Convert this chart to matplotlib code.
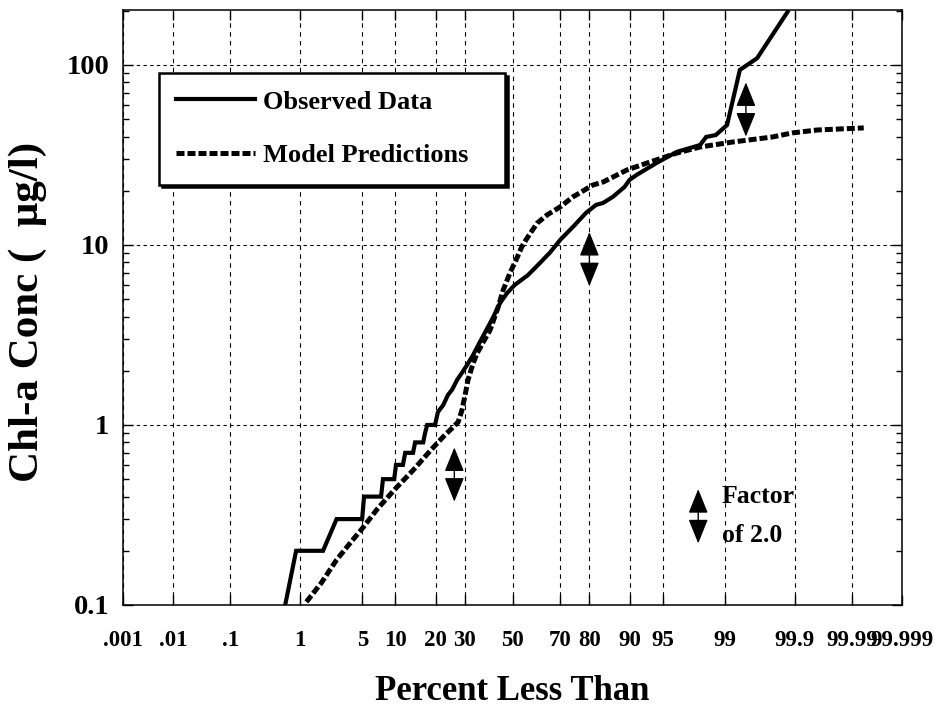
import matplotlib
matplotlib.use("Agg")
import matplotlib.pyplot as plt
import numpy as np
from matplotlib.lines import Line2D
from matplotlib.ticker import FixedLocator, FixedFormatter, NullLocator, NullFormatter, LogLocator
from statistics import NormalDist

plt.rcParams['font.family'] = ['Liberation Serif', 'DejaVu Serif']
plt.rcParams['font.weight'] = 'bold'

# observed chl-a, percent less than vs conc (ug/l)
obs_pct = [0.64, 0.89, 1.9, 2.7, 4.98, 5.2, 7.5, 7.8, 9.75, 10.1, 11.5, 12.0,
           13.8, 14.3, 16.4, 16.9, 17.5, 19.8, 20.7, 22.4, 24.0, 25.4, 27.2,
           29.0, 30.9, 33.3, 36.1, 41.0, 44.6, 47.6, 51.0, 56.7, 61.8, 66.0,
           70.0, 74.6, 79.0, 82.0, 83.9, 86.4, 89.0, 90.0, 91.3, 94.3, 96.4,
           98.0, 98.3, 98.7, 99.06, 99.36, 99.63, 99.87]
obs_val = [0.1, 0.2, 0.2, 0.3, 0.3, 0.4, 0.4, 0.5, 0.5, 0.6, 0.6, 0.7,
           0.7, 0.8, 0.8, 0.9, 1.0, 1.0, 1.18, 1.29, 1.47, 1.57, 1.78,
           1.95, 2.15, 2.45, 2.9, 3.83, 4.76, 5.4, 6.0, 6.8, 7.94, 9.1,
           10.7, 12.6, 15.1, 16.7, 17.1, 18.5, 21.0, 23.0, 24.5, 28.6, 32.9,
           35.9, 39.8, 40.8, 46.4, 93.8, 109.0, 197.0]

# model predictions
mod_pct = [1.2, 1.8, 2.7, 3.75, 5.1, 6.9, 9.9, 13.8, 18.4, 22.4, 25.4, 27.6,
           29.0, 30.2, 31.3, 33.3, 34.9, 37.5, 40.3, 43.7, 45.9, 48.9, 52.0,
           54.1, 56.3, 60.6, 64.8, 70.0, 74.6, 77.0, 81.0, 84.0, 89.5, 93.4,
           96.4, 98.0, 99.2, 99.78, 99.89, 99.957, 99.994]
mod_val = [0.104, 0.132, 0.178, 0.22, 0.27, 0.34, 0.44, 0.56, 0.72, 0.86, 0.96, 1.04,
           1.21, 1.47, 1.78, 2.2, 2.5, 2.9, 3.37, 4.5, 5.6, 7.0, 8.5,
           9.8, 10.9, 13.2, 14.7, 16.3, 18.5, 19.5, 21.5, 22.4, 26.1, 28.9,
           32.4, 35.0, 37.3, 39.8, 41.9, 43.5, 44.7]

# factor-of-2 arrows
arrow_pct = [26.2, 80.0, 99.47, 97.9]
arrow_lo = [0.375, 5.9, 40.0, 0.22]
arrow_hi = [0.75, 11.8, 80.0, 0.44]

xticks = [0.001, 0.01, 0.1, 1, 5, 10, 20, 30, 50, 70, 80, 90, 95, 99, 99.9, 99.99, 99.999]
xlabels = ['.001', '.01', '.1', '1', '5', '10', '20', '30', '50', '70', '80', '90', '95',
           '99', '99.9', '99.99', '99.999']
yticks = [0.1, 1, 10, 100]
ylabels = ['0.1', '1', '10', '100']

nd = NormalDist()
_ppf = np.vectorize(lambda p: nd.inv_cdf(p), otypes=[float])
_cdf = np.vectorize(lambda z: nd.cdf(z), otypes=[float])


def fwd(p):
    p = np.clip(np.asarray(p, dtype=float), 1e-7, 100 - 1e-7)
    return _ppf(p / 100.0)


def inv(z):
    return _cdf(np.asarray(z, dtype=float)) * 100.0


fig = plt.figure(figsize=(9.35, 7.07), dpi=100)
ax = fig.add_axes([0.1316, 0.1443, 0.8331, 0.8416])

ax.set_xscale('function', functions=(fwd, inv))
ax.set_yscale('log')
ax.set_xlim(0.001, 99.999)
ax.set_ylim(0.1, 202)

ax.plot(obs_pct, obs_val, color='black', lw=3.0, solid_joinstyle='miter')
ax.plot(mod_pct, mod_val, color='black', lw=3.6, linestyle=(0, (1.6, 0.6)),
        dash_capstyle='butt')

for p, lo, hi in zip(arrow_pct, arrow_lo, arrow_hi):
    ax.annotate('', xy=(p, hi), xytext=(p, lo),
                arrowprops=dict(arrowstyle='<|-|>,head_length=0.42,head_width=0.17',
                                mutation_scale=36, lw=1, color='black',
                                shrinkA=0, shrinkB=0))

ax.text(98.9, 0.369, 'Factor', fontsize=18.5, fontweight='bold', va='baseline', ha='left')
ax.text(98.9, 0.224, 'of 2.0', fontsize=18.5, fontweight='bold', va='baseline', ha='left')

ax.xaxis.set_major_locator(FixedLocator(xticks))
ax.xaxis.set_major_formatter(FixedFormatter(xlabels))
ax.xaxis.set_minor_locator(NullLocator())
ax.yaxis.set_major_locator(FixedLocator(yticks))
ax.yaxis.set_major_formatter(FixedFormatter(ylabels))
ax.yaxis.set_minor_locator(LogLocator(base=10, subs=np.arange(2, 10)))
ax.yaxis.set_minor_formatter(NullFormatter())

ax.tick_params(axis='x', which='major', direction='in', top=True, bottom=True,
               length=7, width=1, labelsize=16.5, pad=18)
ax.tick_params(axis='y', which='major', direction='in', left=True, right=True,
               length=7, width=1, labelsize=20.5, pad=10)
ax.tick_params(axis='y', which='minor', direction='in', left=True, right=True,
               length=4.5, width=1)
for lab in ax.get_xticklabels() + ax.get_yticklabels():
    lab.set_fontweight('bold')

ax.set_axisbelow(True)
ax.grid(True, axis='x', which='major', color='black', lw=0.8, linestyle=(0, (4, 4)))
ax.grid(True, axis='y', which='major', color='black', lw=0.8, linestyle=(0, (3, 3)))
for s in ax.spines.values():
    s.set_linewidth(1.1)

ax.set_xlabel('Percent Less Than', fontsize=25, fontweight='bold')
ax.xaxis.set_label_coords(0.5, -0.118)
ax.set_ylabel('Chl-a Conc (  μg/l)', fontsize=31, fontweight='bold', va='center')
ax.yaxis.set_label_coords(-0.122, 0.492)

handles = [Line2D([], [], color='black', lw=3.0),
           Line2D([], [], color='black', lw=3.6, linestyle=(0, (1.6, 0.6)), dash_capstyle='butt')]
leg = ax.legend(handles, ['Observed Data', 'Model Predictions'], loc='upper left',
                bbox_to_anchor=(0.046, 0.894, 0.444, 0), mode='expand', borderaxespad=0,
                prop={'family': ['Liberation Serif'], 'weight': 'bold', 'size': 19},
                handlelength=3.0, handletextpad=0.3, borderpad=0.65, labelspacing=1.15,
                fancybox=False, framealpha=1, edgecolor='black',
                shadow={'color': 'black', 'alpha': 1})
leg.get_frame().set_linewidth(1.8)

fig.savefig('out.png', dpi=100)
